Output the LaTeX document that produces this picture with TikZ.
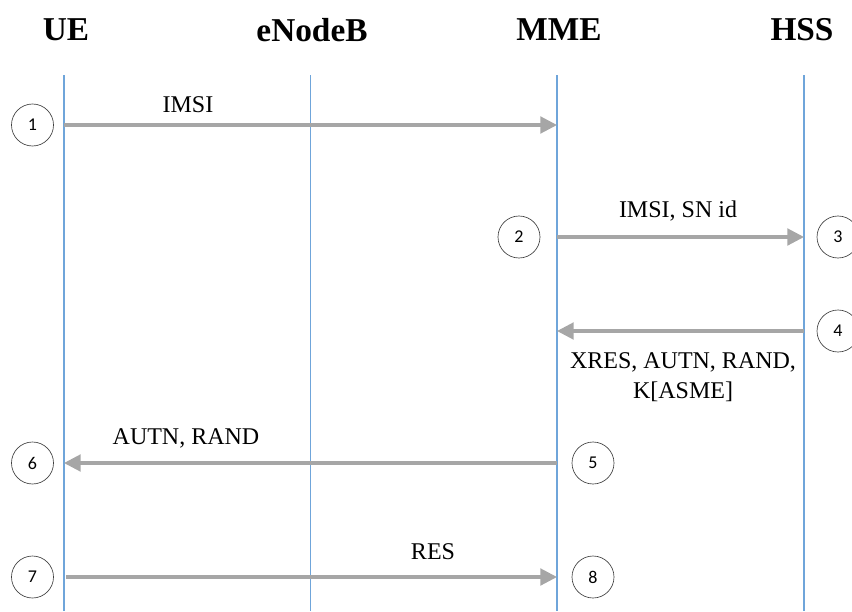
\documentclass[tikz,border=0pt]{standalone}
\usepackage{fontspec}
\setmainfont{Liberation Serif}
\newfontfamily\numfont{Carlito}
\usetikzlibrary{arrows.meta}
\definecolor{lifeblue}{HTML}{6FA5DA}
\definecolor{msggray}{HTML}{A6A6A6}
\definecolor{circgray}{HTML}{404040}
\begin{document}
\begin{tikzpicture}[x=0.75pt,y=-0.75pt,
  head/.style={font=\bfseries\fontsize{25}{30}\selectfont, inner sep=0pt},
  lifeline/.style={draw=lifeblue, line width=0.8pt},
  msg/.style={draw=msggray, line width=2.3pt, -{Triangle[length=12.5pt,width=12.5pt]}},
  lbl/.style={font=\fontsize{18}{22.5}\selectfont, inner sep=0pt, align=center},
  stepnum/.style={circle, draw=circgray, line width=0.5pt, minimum size=31.5pt, inner sep=0pt, font=\numfont\fontsize{13.5}{16}\selectfont}]
\useasboundingbox (0,0) rectangle (852,611);
% headers
\node[head] (hUE) at (66,30) {UE};
\node[head] (hEN) at (312,30) {eNodeB};
\node[head] (hMME) at (559,30) {MME};
\node[head] (hHSS) at (802,30) {HSS};
% lifelines
\coordinate (tUE) at (64,75);   \coordinate (bUE) at (64,611);
\coordinate (tEN) at (310.5,75); \coordinate (bEN) at (310.5,611);
\coordinate (tMME) at (557,75); \coordinate (bMME) at (557,611);
\coordinate (tHSS) at (804,75); \coordinate (bHSS) at (804,611);
\draw[lifeline] (tUE) -- (bUE);
\draw[lifeline] (tEN) -- (bEN);
\draw[lifeline] (tMME) -- (bMME);
\draw[lifeline] (tHSS) -- (bHSS);
% message end points
\coordinate (m1a) at (64,125);  \coordinate (m1b) at (557,125);
\coordinate (m2a) at (557,237); \coordinate (m2b) at (804,237);
\coordinate (m4a) at (804,331); \coordinate (m4b) at (557,331);
\coordinate (m5a) at (557,463); \coordinate (m5b) at (64,463);
\coordinate (m7a) at (66,577);  \coordinate (m7b) at (557,577);
\draw[msg] (m1a) -- (m1b);
\draw[msg] (m2a) -- (m2b);
\draw[msg] (m4a) -- (m4b);
\draw[msg] (m5a) -- (m5b);
\draw[msg] (m7a) -- (m7b);
% labels
\node[lbl] (l1) at (188,105) {IMSI};
\node[lbl] (l2) at (678,211) {IMSI, SN id};
\node[lbl] (l4) at (683,377) {XRES, AUTN, RAND,\\K[ASME]};
\node[lbl] (l5) at (186,438) {AUTN, RAND};
\node[lbl] (l7) at (433,552) {RES};
% step circles
\node[stepnum] (c1) at (32.5,125) {1};
\node[stepnum] (c2) at (519,237) {2};
\node[stepnum] (c3) at (838,237) {3};
\node[stepnum] (c4) at (838,331) {4};
\node[stepnum] (c5) at (593,463) {5};
\node[stepnum] (c6) at (32.5,463) {6};
\node[stepnum] (c7) at (32.5,577) {7};
\node[stepnum] (c8) at (593,577) {8};
\end{tikzpicture}
\end{document}
